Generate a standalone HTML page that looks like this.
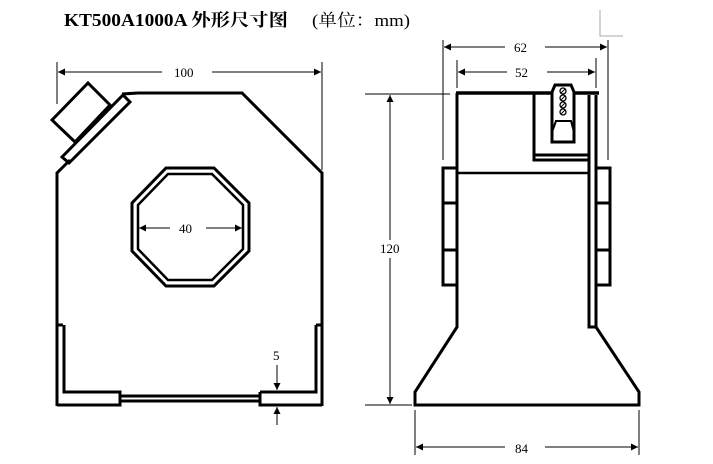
<!DOCTYPE html>
<html><head><meta charset="utf-8"><style>
html,body{margin:0;padding:0;background:#fff;}
svg{display:block;}
text{font-family:"Liberation Serif","Noto Serif CJK SC",serif;fill:#000;}
</style></head><body>
<svg width="713" height="464" viewBox="0 0 713 464" xmlns="http://www.w3.org/2000/svg">
<defs>
<marker id="a" viewBox="0 0 10 10" refX="10" refY="5" markerWidth="9" markerHeight="7" orient="auto-start-reverse" markerUnits="userSpaceOnUse"><path d="M0,0 L10,5 L0,10 z" fill="#000"/></marker>
</defs>
<text x="64" y="26" font-size="17.5" font-weight="bold" textLength="224" lengthAdjust="spacingAndGlyphs">KT500A1000A 外形尺寸图</text>
<text x="312" y="26" font-size="17" textLength="98" lengthAdjust="spacingAndGlyphs">(单位：mm)</text>
<path d="M600,10 V36 H623" fill="none" stroke="#aaa" stroke-width="1"/>

<g stroke="#000" stroke-width="1" fill="none">
<line x1="57" y1="62" x2="57" y2="104"/>
<line x1="322" y1="62" x2="322" y2="170"/>
<line x1="58" y1="72" x2="162" y2="72" marker-start="url(#a)"/>
<line x1="212" y1="72" x2="321" y2="72" marker-end="url(#a)"/>
<line x1="139" y1="228" x2="170" y2="228" marker-start="url(#a)"/>
<line x1="206" y1="228" x2="242" y2="228" marker-end="url(#a)"/>
<line x1="277" y1="365" x2="277" y2="390" marker-end="url(#a)"/>
<line x1="277" y1="425" x2="277" y2="407" marker-end="url(#a)"/>
</g>
<text x="174" y="77" font-size="13">100</text>
<text x="179" y="233" font-size="13">40</text>
<text x="273" y="360" font-size="13">5</text>

<g stroke="#000" stroke-width="3" fill="none" stroke-linejoin="miter">
<path d="M57,406 V173 L70,160 M122,94 L138,93 H242 L322,173 V406"/>
<polygon points="62,157 123,95 130,102 69,163"/>
<polygon points="52,120 88,83 110,105 75,142"/>
<polygon points="166,168 214,168 249,203 249,251 214,286 166,286 132,251 132,203"/>
<polygon points="168,174 212,174 243,205 243,249 212,280 168,280 138,249 138,205" stroke-width="2.5"/>
<path d="M57,325 H63 M57,405 H120 V392 H64 V325 M120,396 H260 M120,401 H260 M260,392 V405 H322 M316,325 H322 M316,325 V392 H260"/>
</g>

<g stroke="#000" stroke-width="1" fill="none">
<line x1="443" y1="40" x2="443" y2="160"/>
<line x1="608" y1="40" x2="608" y2="160"/>
<line x1="444" y1="47" x2="505" y2="47" marker-start="url(#a)"/>
<line x1="545" y1="47" x2="607" y2="47" marker-end="url(#a)"/>
<line x1="457" y1="60" x2="457" y2="88"/>
<line x1="596" y1="58" x2="596" y2="88"/>
<line x1="458" y1="72" x2="507" y2="72" marker-start="url(#a)"/>
<line x1="547" y1="72" x2="595" y2="72" marker-end="url(#a)"/>
<line x1="365" y1="94" x2="450" y2="94"/>
<line x1="365" y1="405" x2="412" y2="405"/>
<line x1="390" y1="95" x2="390" y2="240" marker-start="url(#a)"/>
<line x1="390" y1="258" x2="390" y2="404" marker-end="url(#a)"/>
<line x1="415" y1="410" x2="415" y2="455"/>
<line x1="639" y1="410" x2="639" y2="455"/>
<line x1="416" y1="447" x2="505" y2="447" marker-start="url(#a)"/>
<line x1="545" y1="447" x2="638" y2="447" marker-end="url(#a)"/>
</g>
<text x="514" y="52" font-size="13">62</text>
<text x="515" y="77" font-size="13">52</text>
<text x="380" y="253" font-size="13">120</text>
<text x="515" y="453" font-size="13">84</text>

<g stroke="#000" stroke-width="3" fill="none">
<path d="M457,93 V327 L415,392 V405 H639 V392 L596,327 V95"/>
<path d="M589,95 V327 H596"/>
<line x1="456" y1="93" x2="599" y2="93" stroke-width="3.5"/>
<path d="M534,94 V160 H590 M534,155 H590"/>
<line x1="457" y1="173" x2="589" y2="173" stroke-width="2.5"/>
<polygon points="443,168 457,168 457,285 443,285"/>
<line x1="443" y1="203" x2="457" y2="203"/>
<line x1="443" y1="250" x2="457" y2="250"/>
<polygon points="596,168 610,168 610,285 596,285"/>
<line x1="596" y1="203" x2="610" y2="203"/>
<line x1="596" y1="250" x2="610" y2="250"/>
<path d="M555,85 H571 L574,92 V142 H552 V92 Z" fill="#fff"/>
<path d="M555,121 H571 L574,132" stroke-width="2"/>
<line x1="556" y1="121" x2="552" y2="132" stroke-width="2"/>
</g>
<g stroke="#000" stroke-width="1.3" fill="#fff">
<circle cx="563" cy="91" r="3"/><circle cx="563" cy="98" r="3"/><circle cx="563" cy="105" r="3"/><circle cx="563" cy="112" r="3"/>
</g>
<g stroke="#000" stroke-width="1">
<line x1="561" y1="93" x2="565" y2="89"/><line x1="561" y1="100" x2="565" y2="96"/><line x1="561" y1="107" x2="565" y2="103"/><line x1="561" y1="114" x2="565" y2="110"/>
</g>
</svg>
</body></html>
